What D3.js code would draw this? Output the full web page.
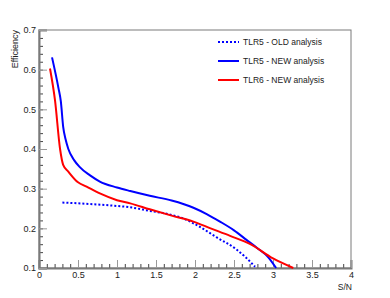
<!DOCTYPE html>
<html>
<head>
<meta charset="utf-8">
<script src="https://cdn.jsdelivr.net/npm/d3@7"></script>
<style>
  body { margin: 0; background: #fff; }
  text { font-family: "Liberation Sans", Arial, sans-serif; }
</style>
</head>
<body>
<script>
// data
const tlr5OldX = [0.30, 0.60, 0.90, 1.17, 1.42, 1.65, 1.85, 2.05, 2.28, 2.53, 2.65, 2.77];
const tlr5OldY = [0.265, 0.262, 0.258, 0.253, 0.244, 0.236, 0.225, 0.205, 0.177, 0.147, 0.127, 0.103];

const tlr5NewX = [0.167, 0.25, 0.28, 0.31, 0.34, 0.376, 0.45, 0.52, 0.65, 0.78, 1.0, 1.17, 1.42, 1.7, 1.98, 2.15, 2.32, 2.5, 2.66, 2.8, 2.94, 3.04];
const tlr5NewY = [0.631, 0.553, 0.52, 0.456, 0.425, 0.40, 0.372, 0.355, 0.334, 0.318, 0.303, 0.294, 0.282, 0.27, 0.252, 0.236, 0.217, 0.195, 0.171, 0.15, 0.127, 0.1];

const tlr6NewX = [0.141, 0.205, 0.27, 0.31, 0.376, 0.5, 0.61, 0.78, 1.0, 1.17, 1.42, 1.7, 1.98, 2.2, 2.45, 2.71, 3.0, 3.26];
const tlr6NewY = [0.603, 0.523, 0.40, 0.36, 0.343, 0.316, 0.305, 0.288, 0.271, 0.263, 0.248, 0.232, 0.217, 0.2, 0.181, 0.16, 0.124, 0.1];

const xTicks = [0, 0.5, 1, 1.5, 2, 2.5, 3, 3.5, 4];
const yTicks = [0.1, 0.2, 0.3, 0.4, 0.5, 0.6, 0.7];
const legendLabels = ["TLR5 - OLD analysis", "TLR5 - NEW analysis", "TLR6 - NEW analysis"];

let width = 390;
let height = 298;
let margin = { top: 30, right: 39, bottom: 30, left: 39 };

const escalaX = d3.scaleLinear().domain([0, 4]).range([margin.left, width - margin.right]);
const escalaY = d3.scaleLinear().domain([0.1, 0.7]).range([height - margin.bottom, margin.top]);

let svg = d3.select("body").append("svg")
  .attr("width", width)
  .attr("height", height);

const gris = "#7a7a7a";

// frame
svg.append("rect")
  .attr("x", escalaX(0)).attr("y", escalaY(0.7))
  .attr("width", escalaX(4) - escalaX(0))
  .attr("height", escalaY(0.1) - escalaY(0.7))
  .attr("fill", "none").attr("stroke", gris).attr("stroke-width", 1);

// minor ticks
let minorX = d3.range(0, 4.001, 0.1);
let minorY = d3.range(0.1, 0.7001, 0.02);

svg.append("g").attr("transform", "translate(0," + escalaY(0.1) + ")")
  .call(d3.axisBottom(escalaX).tickValues(minorX).tickSize(-4).tickFormat(""))
  .call(g => g.select(".domain").remove())
  .call(g => g.selectAll("line").attr("stroke", "#444"));
svg.append("g").attr("transform", "translate(" + escalaX(0) + ",0)")
  .call(d3.axisLeft(escalaY).tickValues(minorY).tickSize(-4).tickFormat(""))
  .call(g => g.select(".domain").remove())
  .call(g => g.selectAll("line").attr("stroke", "#444"));

// major ticks + labels
let ejeX = svg.append("g").attr("transform", "translate(0," + escalaY(0.1) + ")")
  .call(d3.axisBottom(escalaX).tickValues(xTicks).tickSize(-8).tickPadding(4).tickFormat(d3.format("")));
ejeX.select(".domain").attr("stroke", gris).attr("stroke-width", 2);
ejeX.selectAll("line").attr("stroke", "#999");
ejeX.selectAll("text").attr("font-size", 9).attr("fill", "#222");

let ejeY = svg.append("g").attr("transform", "translate(" + escalaX(0) + ",0)")
  .call(d3.axisLeft(escalaY).tickValues(yTicks).tickSize(-8).tickPadding(3).tickFormat(d3.format(".1f")));
ejeY.select(".domain").attr("stroke", gris).attr("stroke-width", 2);
ejeY.selectAll("line").attr("stroke", "#999");
ejeY.selectAll("text").attr("font-size", 9).attr("fill", "#222");

// axis titles
svg.append("text")
  .attr("x", escalaX(4) + 1).attr("y", 290)
  .attr("text-anchor", "end").attr("font-size", 8.5).attr("fill", "#222")
  .text("S/N");
svg.append("text")
  .attr("transform", "translate(18," + escalaY(0.7) + ") rotate(-90)")
  .attr("text-anchor", "end").attr("font-size", 9).attr("fill", "#222")
  .text("Efficiency");

// curves
const series = [
  { x: tlr5OldX, y: tlr5OldY, color: "#0000ff", dash: "2,2" },
  { x: tlr5NewX, y: tlr5NewY, color: "#0000ff", dash: null },
  { x: tlr6NewX, y: tlr6NewY, color: "#ff0000", dash: null }
];

let linea = d3.line()
  .x(d => escalaX(d[0]))
  .y(d => escalaY(d[1]))
  .curve(d3.curveMonotoneX);

series.forEach(s => {
  svg.append("path")
    .datum(s.x.map((v, i) => [v, s.y[i]]))
    .attr("d", linea)
    .attr("fill", "none")
    .attr("stroke", s.color)
    .attr("stroke-width", 2)
    .attr("stroke-dasharray", s.dash);
});

// legend
let leyenda = svg.append("g");
series.forEach((s, i) => {
  let y = 42 + i * 19;
  leyenda.append("line")
    .attr("x1", 218).attr("x2", 239).attr("y1", y).attr("y2", y)
    .attr("stroke", s.color).attr("stroke-width", 2)
    .attr("stroke-dasharray", s.dash);
  leyenda.append("text")
    .attr("x", 243).attr("y", y + 3)
    .attr("font-size", 8.5).attr("fill", "#222")
    .text(legendLabels[i]);
});
</script>
</body>
</html>
